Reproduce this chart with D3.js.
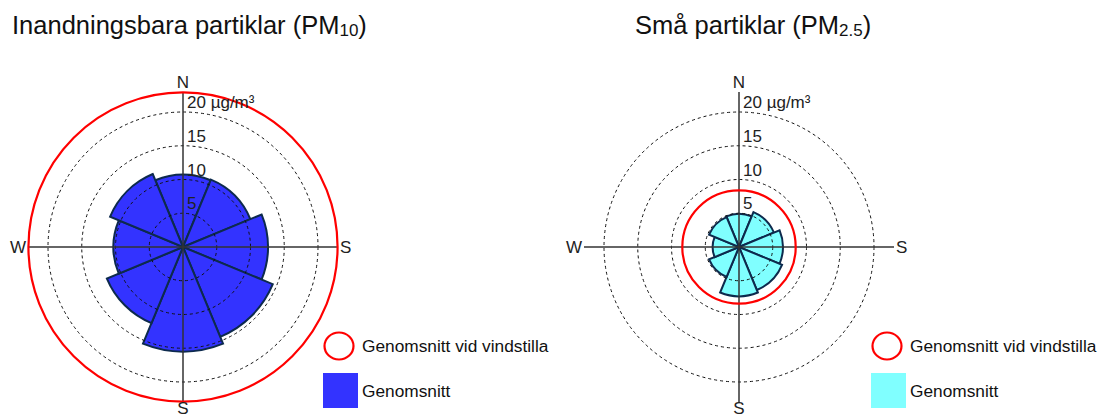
<!DOCTYPE html>
<html>
<head>
<meta charset="utf-8">
<script src="https://cdn.jsdelivr.net/npm/d3@7"></script>
<style>
  html, body { margin: 0; padding: 0; background: #fff; }
  svg { display: block; font-family: "Liberation Sans", Arial, sans-serif; }
</style>
</head>
<body>
<svg id="chart" width="1101" height="419"></svg>
<script>
// Wind sectors (degrees clockwise from north), 45° wide
const sectorDirections = [0, 45, 90, 135, 180, 225, 270, 315];

// Mean concentration per wind sector (µg/m³)
const pm10Means = [10.7, 10.8, 12.6, 14.4, 15.5, 12.2, 10.3, 11.7];
const pm25Means = [4.9, 5.6, 6.5, 6.9, 7.3, 4.8, 3.9, 4.8];

// Mean concentration during calm conditions (µg/m³)
const pm10Calm = 22.9;
const pm25Calm = 8.4;

// Radial rings and their labels
const ringTicks = [5, 10, 15, 20];
const ringLabels = ["5", "10", "15", "20 µg/m³"];

// Compass labels (angle in degrees clockwise from north)
const compassAngles = [0, 90, 180, 270];
const compassLabels = ["N", "S", "S", "W"];

// Panel titles
const titleMain = ["Inandningsbara partiklar (PM", "Små partiklar (PM"];
const titleSub = ["10", "2.5"];

// Legend entries
const legendLabels = ["Genomsnitt vid vindstilla", "Genomsnitt"];

const panels = [
  { means: pm10Means, calm: pm10Calm, fill: "#3333ff", cx: 183, cy: 247, titleX: 12, legendX: 323 },
  { means: pm25Means, calm: pm25Calm, fill: "#80ffff", cx: 739, cy: 247, titleX: 635, legendX: 871 }
];

const svg = d3.select("#chart");
const r = d3.scaleLinear().domain([0, 20]).range([0, 135]);
const axisReach = 155;
const halfWidth = Math.PI / 8;

const arc = d3.arc()
  .innerRadius(0)
  .outerRadius(d => r(d.value))
  .startAngle(d => d.angle - halfWidth)
  .endAngle(d => d.angle + halfWidth);

// Placement of each compass letter relative to the centre
const compassPlacement = [
  { dx: 0, dy: -159, anchor: "middle" },
  { dx: 157, dy: 6, anchor: "start" },
  { dx: 0, dy: 167, anchor: "middle" },
  { dx: -157, dy: 6, anchor: "end" }
];

panels.forEach((p, pi) => {
  // Title with subscript
  const t = svg.append("text")
    .attr("x", p.titleX).attr("y", 34)
    .attr("font-size", 25.5).attr("fill", "#111");
  t.append("tspan").text(titleMain[pi]);
  t.append("tspan").attr("font-size", 17).attr("dy", 2).text(titleSub[pi]);
  t.append("tspan").attr("dy", -2).text(")");

  const g = svg.append("g").attr("transform", `translate(${p.cx},${p.cy})`);

  // Sector wedges
  const sectors = sectorDirections.map((deg, i) => ({ angle: deg * Math.PI / 180, value: p.means[i] }));
  g.selectAll("path.sector").data(sectors).join("path")
    .attr("class", "sector")
    .attr("d", arc)
    .attr("fill", p.fill)
    .attr("stroke", "#0d2a4d")
    .attr("stroke-width", 2)
    .attr("stroke-linejoin", "miter");

  // Dashed reference rings
  g.selectAll("circle.ring").data(ringTicks).join("circle")
    .attr("class", "ring")
    .attr("r", d => r(d))
    .attr("fill", "none")
    .attr("stroke", "#111")
    .attr("stroke-width", 1)
    .attr("stroke-dasharray", "3,3");

  // Cross axes
  g.append("line").attr("x1", -axisReach).attr("x2", axisReach).attr("y1", 0).attr("y2", 0)
    .attr("stroke", "#333").attr("stroke-width", 1.5);
  g.append("line").attr("x1", 0).attr("x2", 0).attr("y1", -axisReach).attr("y2", axisReach)
    .attr("stroke", "#333").attr("stroke-width", 1.5);

  // Calm-conditions mean
  g.append("circle")
    .attr("r", r(p.calm))
    .attr("fill", "none")
    .attr("stroke", "#ff0000")
    .attr("stroke-width", 2.2);

  // Ring labels along the north axis
  g.selectAll("text.ringlabel").data(ringTicks).join("text")
    .attr("class", "ringlabel")
    .attr("x", 4)
    .attr("y", d => -r(d) - 4)
    .attr("font-size", 17)
    .attr("fill", "#222")
    .text((d, i) => ringLabels[i]);

  // Compass labels
  compassAngles.forEach((deg, i) => {
    const c = compassPlacement[i];
    g.append("text")
      .attr("x", c.dx).attr("y", c.dy)
      .attr("text-anchor", c.anchor)
      .attr("font-size", 17)
      .attr("fill", "#222")
      .text(compassLabels[i]);
  });

  // Legend
  const lg = svg.append("g").attr("transform", `translate(${p.legendX},0)`);
  lg.append("ellipse")
    .attr("cx", 16).attr("cy", 346).attr("rx", 14.5).attr("ry", 13.5)
    .attr("fill", "none").attr("stroke", "#ff0000").attr("stroke-width", 2.2);
  lg.append("text").attr("x", 39).attr("y", 352).attr("font-size", 17.3).attr("fill", "#111").text(legendLabels[0]);
  lg.append("rect").attr("x", 0).attr("y", 373).attr("width", 35).attr("height", 35).attr("fill", p.fill);
  lg.append("text").attr("x", 39).attr("y", 397).attr("font-size", 17.3).attr("fill", "#111").text(legendLabels[1]);
});
</script>
</body>
</html>
